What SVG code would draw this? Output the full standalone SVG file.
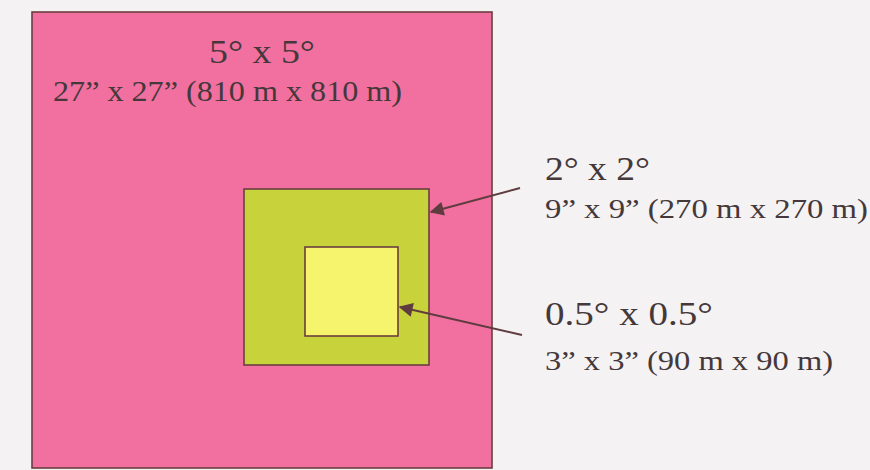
<svg xmlns="http://www.w3.org/2000/svg" width="870" height="470" viewBox="0 0 870 470">
<defs>
<style>
.t{font-family:"Liberation Serif","Times New Roman",serif;fill:#45383a}
.box{stroke:#6a3e40;stroke-width:1.6}
.conn{stroke:#5e3c40;stroke-width:2;fill:none}
</style>
<marker id="ah" viewBox="0 0 10 10" refX="9" refY="5" markerWidth="8" markerHeight="7" orient="auto" markerUnits="strokeWidth">
<path d="M0,0 L10,5 L0,10 z" fill="#5e3c40"/>
</marker>
</defs>
<rect x="0" y="0" width="870" height="470" fill="#f4f2f2"/>
<g id="outer">
<rect class="box" x="32" y="12" width="460" height="456" fill="#f1709f" stroke="#7a4a55"/>
<text class="t" x="262" y="63" font-size="33" text-anchor="middle" textLength="106" lengthAdjust="spacingAndGlyphs">5° x 5°</text>
<text class="t" x="53" y="101" font-size="29" textLength="349" lengthAdjust="spacingAndGlyphs">27” x 27” (810 m x 810 m)</text>
</g>
<g id="middle">
<rect class="box" x="244" y="189" width="185" height="176" fill="#c8d23a"/>
</g>
<g id="inner">
<rect class="box" x="305" y="247" width="93" height="89" fill="#f6f46c"/>
</g>
<g id="label-middle">
<text class="t" x="545" y="180" font-size="33" textLength="105" lengthAdjust="spacingAndGlyphs">2° x 2°</text>
<text class="t" x="545" y="218" font-size="28" textLength="323" lengthAdjust="spacingAndGlyphs">9” x 9” (270 m x 270 m)</text>
</g>
<g id="label-inner">
<text class="t" x="545" y="325" font-size="33" textLength="168" lengthAdjust="spacingAndGlyphs">0.5° x 0.5°</text>
<text class="t" x="545" y="370" font-size="28" textLength="288" lengthAdjust="spacingAndGlyphs">3” x 3” (90 m x 90 m)</text>
</g>
<g id="connectors">
<line class="conn" x1="520" y1="188" x2="431" y2="212" marker-end="url(#ah)"/>
<line class="conn" x1="522" y1="335" x2="400" y2="307" marker-end="url(#ah)"/>
</g>
</svg>
